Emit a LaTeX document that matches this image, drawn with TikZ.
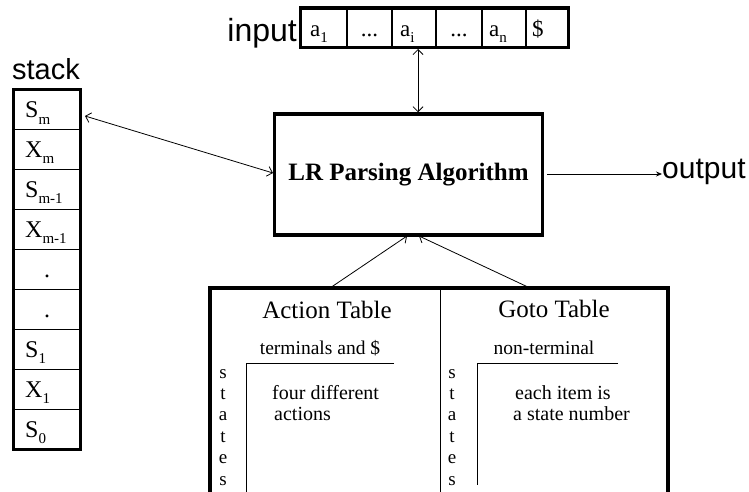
\documentclass[tikz,border=0pt]{standalone}
\usepackage{fontspec}
\setmainfont{Liberation Serif}
\newfontfamily\labelfont{Liberation Sans}
\usetikzlibrary{arrows.meta}

% lowered index in table cells
\newcommand{\lowidx}[1]{\raisebox{-0.55ex}{\fontsize{15}{15}\selectfont #1}}
\newcommand{\fs}[1]{\fontsize{#1}{#1}\selectfont}

\begin{document}
\begin{tikzpicture}[x=1pt,y=-1pt,
  heavy/.style={line width=3.5pt},
  thin/.style={line width=1.1pt},
  cellbox/.style={draw, thin, minimum width=66pt, minimum height=39.9pt, inner sep=0pt},
  tapecell/.style={draw, thin, minimum height=38.5pt, inner sep=0pt},
  barbs/.style={line width=0.8pt, {Straight Barb[length=5pt,width=10pt]}-{Straight Barb[length=5pt,width=10pt]}},
  onebarb/.style={line width=0.8pt, -{Straight Barb[length=5pt,width=10pt]}},
  outarrow/.style={line width=0.8pt, -{Stealth[length=6pt,width=5pt]}},
  celltext/.style={anchor=base west, inner sep=0pt, font=\fs{24}},
  tapetext/.style={anchor=base west, inner sep=0pt, font=\fs{23}},
  tabtext/.style={inner sep=0pt, font=\fs{20}},
]
\useasboundingbox (0,0) rectangle (749,492);

% ---------- stack ----------
\node[anchor=base, inner sep=0pt, font=\labelfont\fs{29}] (stacklabel) at (46,80) {stack};
\foreach \t [count=\i] in {S\lowidx{m}, X\lowidx{m}, S\lowidx{m-1}, X\lowidx{m-1}, {}, {}, S\lowidx{1}, X\lowidx{1}, S\lowidx{0}} {
  \node[cellbox] (st\i) at (47,{90+(\i-0.5)*39.9}) {};
  \node[celltext] (stt\i) at ([xshift=-22pt,yshift=-8pt]st\i.center) {\t};
}
\node[anchor=base, inner sep=0pt, font=\fs{24}] (dotA) at ([yshift=-8pt]st5.center) {.};
\node[anchor=base, inner sep=0pt, font=\fs{24}] (dotB) at ([yshift=-8pt]st6.center) {.};
\draw[heavy] (st1.north west) rectangle (st9.south east);

% ---------- input tape ----------
\node[anchor=base east, inner sep=0pt, font=\labelfont\fs{32}] (inputlabel) at (297,42) {input};
\node[tapecell, minimum width=46pt] (in1) at (324,27.7) {};
\node[tapecell, minimum width=45pt] (in2) at (369.5,27.7) {};
\node[tapecell, minimum width=44pt] (in3) at (414,27.7) {};
\node[tapecell, minimum width=46pt] (in4) at (459,27.7) {};
\node[tapecell, minimum width=44pt] (in5) at (504,27.7) {};
\node[tapecell, minimum width=42pt] (in6) at (547,27.7) {};
\draw[heavy] (in1.north west) rectangle (in6.south east);
\node[tapetext] (ta1) at (310,37) {a\lowidx{1}};
\node[tapetext, anchor=base] (ta2) at (in2.center |- 0,37) {...};
\node[tapetext] (ta3) at (400,37) {a\lowidx{i}};
\node[tapetext, anchor=base] (ta4) at (in4.center |- 0,37) {...};
\node[tapetext] (ta5) at (489,37) {a\lowidx{n}};
\node[tapetext] (ta6) at (532,37) {\$};

% ---------- parser ----------
\node[draw, heavy, minimum width=268pt, minimum height=121pt, inner sep=0pt,
      font=\bfseries\fs{25}] (lr) at (408.5,174.5) {LR Parsing Algorithm};
\node[anchor=base west, inner sep=0pt, font=\labelfont\fs{30}] (out) at (662,178) {output};

% ---------- tables ----------
\coordinate (tl) at (210,288);
\coordinate (tr) at (668,288);
\coordinate (tm) at (440.5,288);
\draw[heavy] (210,495) -- (tl) -- (tr) -- (668,495);
\draw[line width=1.4pt] (tm) -- (440.5,495);

\node[inner sep=0pt, anchor=base, font=\fs{25}] (acttitle) at (327,318) {Action Table};
\node[inner sep=0pt, anchor=base, font=\fs{25}] (gototitle) at (554,317) {Goto Table};
\node[inner sep=0pt, anchor=base, font=\fs{19.5}] (actcols) at (320,354) {terminals and \$};
\node[inner sep=0pt, anchor=base, font=\fs{19.5}] (gotocols) at (544,354) {non-terminal};

\coordinate (acorner) at (246,363);
\coordinate (gcorner) at (477,363);
\draw[line width=1pt] (394,363) -- (acorner) -- (246,495);
\draw[line width=1pt] (618,363) -- (gcorner) -- (477,485);

\foreach \c [count=\k] in {s,t,a,t,e,s} {
  \node[inner sep=0pt, anchor=base, font=\fs{19}] at (223,{378+(\k-1)*21.4}) {\c};
  \node[inner sep=0pt, anchor=base, font=\fs{19}] at (452,{378+(\k-1)*21.4}) {\c};
}

\node[tabtext, anchor=base west] (act1) at (272,399) {four different};
\node[tabtext, anchor=base west] (act2) at (274,420) {actions};
\node[tabtext, anchor=base west] (goto1) at (515,399) {each item is};
\node[tabtext, anchor=base west] (goto2) at (513,420) {a state number};

% ---------- connectors ----------
\coordinate (stackport) at (85,116);
\coordinate (lrleft) at (273,173);
\draw[barbs] (stackport) -- (lrleft);

\coordinate (tapeport) at (418,49);
\draw[barbs] (tapeport) -- (tapeport |- lr.north);

\coordinate (actport) at (330,288);
\coordinate (gotoport) at (530,288);
\draw[onebarb] (actport) -- (407,236);
\draw[onebarb] (gotoport) -- (419,236);

\draw[outarrow] (547,174) -- (out.west |- 0,174);
\end{tikzpicture}
\end{document}
